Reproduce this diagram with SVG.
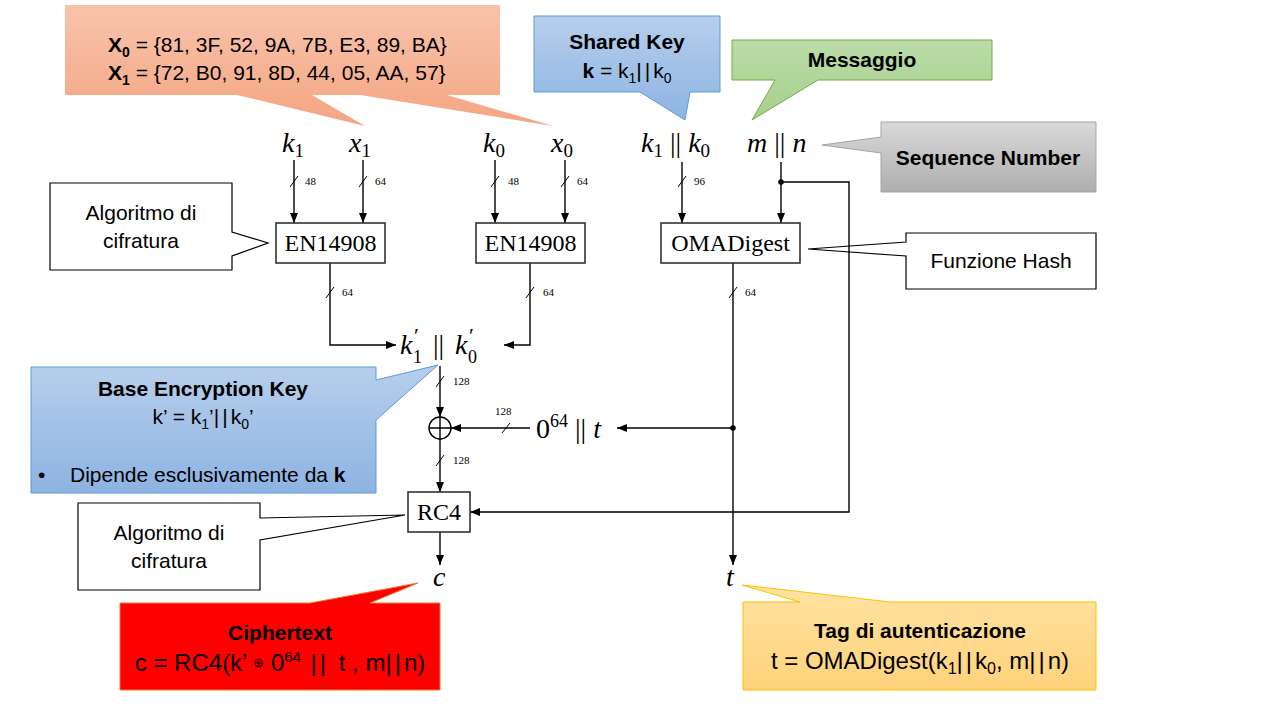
<svg xmlns="http://www.w3.org/2000/svg" width="1280" height="720" viewBox="0 0 1280 720">
<defs>
<linearGradient id="gOrange" x1="0" y1="0" x2="0" y2="1"><stop offset="0" stop-color="#F8C4AC"/><stop offset="1" stop-color="#F4A582"/></linearGradient>
<linearGradient id="gBlue" x1="0" y1="0" x2="0" y2="1"><stop offset="0" stop-color="#B7CFEC"/><stop offset="1" stop-color="#8DB3E2"/></linearGradient>
<linearGradient id="gGreen" x1="0" y1="0" x2="0" y2="1"><stop offset="0" stop-color="#BBDCA8"/><stop offset="1" stop-color="#A6CF8B"/></linearGradient>
<linearGradient id="gGray" x1="0" y1="0" x2="0" y2="1"><stop offset="0" stop-color="#D9D9D9"/><stop offset="1" stop-color="#AEAEAE"/></linearGradient>
<linearGradient id="gYellow" x1="0" y1="0" x2="0" y2="1"><stop offset="0" stop-color="#FFE3A3"/><stop offset="1" stop-color="#FFD27A"/></linearGradient>
<marker id="ah" viewBox="0 0 10 8" refX="10" refY="4" markerWidth="10" markerHeight="8" markerUnits="userSpaceOnUse" orient="auto"><path d="M0 0 L10 4 L0 8 Z" fill="#000"/></marker>
</defs>
<style>
.ln{fill:none;stroke:#000;stroke-width:1.4}
.arr{fill:none;stroke:#000;stroke-width:1.4;marker-end:url(#ah)}
.sl{stroke:#000;stroke-width:1}
.box{fill:#fff;stroke:#333;stroke-width:1.6}
.math{font-family:"Liberation Serif","DejaVu Serif",serif;font-style:italic;font-size:28px;fill:#000}
.up{font-style:normal}
.sm{font-size:18px}
.pr{font-size:22px}
.bw{font-family:"Liberation Serif","DejaVu Serif",serif;font-size:11px;fill:#000}
.bl{font-family:"Liberation Serif","DejaVu Serif",serif;font-size:24px;fill:#000;text-anchor:middle}
.t{font-family:"Liberation Sans","Noto Sans",sans-serif;font-size:21px;fill:#000}
.f24{font-size:24px}
.c{text-anchor:middle}
.b{font-weight:bold}
.wc{fill:#fff;stroke:#000;stroke-width:1.2}
.bar{letter-spacing:3px}
</style>

<!-- callouts -->
<g id="callout-x">
<path d="M65 5 H500 V95 H447 L553 126 L360 95 H312 L365 126 L237 95 H65 Z" fill="url(#gOrange)"/>
<text class="t" x="108" y="52"><tspan class="b">X</tspan><tspan class="b" font-size="14" dy="5">0</tspan><tspan dy="-5"> = {81, 3F, 52, 9A, 7B, E3, 89, BA}</tspan></text>
<text class="t" x="108" y="80"><tspan class="b">X</tspan><tspan class="b" font-size="14" dy="5">1</tspan><tspan dy="-5"> = {72, B0, 91, 8D, 44, 05, AA, 57}</tspan></text>
</g>
<g id="callout-shared">
<path d="M534 16 H720 V92 H690 L685 120 L640 92 H534 Z" fill="url(#gBlue)" stroke="#5B9BD5" stroke-width="1"/>
<text class="t c b" x="627" y="49">Shared Key</text>
<text class="t c" x="627" y="78"><tspan class="b">k</tspan> = k<tspan font-size="14" dy="5">1</tspan><tspan dy="-5" class="bar">||</tspan><tspan>k</tspan><tspan font-size="14" dy="5">0</tspan></text>
</g>
<g id="callout-msg">
<path d="M732 40 H992 V80 H818 L752 120 L775 80 H732 Z" fill="url(#gGreen)" stroke="#70AD47" stroke-width="1"/>
<text class="t c b" x="862" y="67">Messaggio</text>
</g>
<g id="callout-seq">
<path d="M881 122 H1096 V192 H881 V153 L822 145 L881 137 Z" fill="url(#gGray)" stroke="#A5A5A5" stroke-width="1"/>
<text class="t c b" x="988" y="165">Sequence Number</text>
</g>
<g id="callout-alg1">
<path d="M50 183 H232 V232 L268 243 L232 256 V270 H50 Z" class="wc"/>
<text class="t c" x="141" y="220">Algoritmo di</text>
<text class="t c" x="141" y="248">cifratura</text>
</g>
<g id="callout-hash">
<path d="M906 233 H1096 V289 H906 V256 L808 249 L906 242 Z" class="wc"/>
<text class="t c" x="1001" y="268">Funzione Hash</text>
</g>
<g id="callout-base">
<path d="M31 367 H376 V380 L438 365 L376 420 V493 H31 Z" fill="url(#gBlue)" stroke="#5B9BD5" stroke-width="1"/>
<text class="t c b" x="203" y="396">Base Encryption Key</text>
<text class="t c" x="203" y="424">k’ = k<tspan font-size="14" dy="5">1</tspan><tspan dy="-5">’</tspan><tspan class="bar">||</tspan><tspan>k</tspan><tspan font-size="14" dy="5">0</tspan><tspan dy="-5">’</tspan></text>
<text class="t" x="38" y="482">•</text>
<text class="t" x="70" y="482">Dipende esclusivamente da <tspan class="b">k</tspan></text>
</g>
<g id="callout-alg2">
<path d="M78 503 H260 V518 L405 515 L260 540 V590 H78 Z" class="wc"/>
<text class="t c" x="169" y="540">Algoritmo di</text>
<text class="t c" x="169" y="568">cifratura</text>
</g>
<g id="callout-cipher">
<path d="M120 603 H310 L418 583 L370 603 H440 V690 H120 Z" fill="#FF0000" stroke="#ED7D31" stroke-width="1"/>
<text class="t c b" x="280" y="640">Ciphertext</text>
<text class="t c f24" x="280" y="671">c = RC4(k’ <tspan font-size="13" dy="-4">⊕</tspan><tspan dy="4"> 0</tspan><tspan font-size="15" dy="-9">64</tspan><tspan dy="9" class="bar"> || </tspan><tspan>t , m</tspan><tspan class="bar">||</tspan><tspan>n)</tspan></text>
</g>
<g id="callout-tag">
<path d="M743 602 H800 L742 585 L890 602 H1096 V690 H743 Z" fill="url(#gYellow)" stroke="#FFC000" stroke-width="1"/>
<text class="t c b" x="920" y="638">Tag di autenticazione</text>
<text class="t c f24" x="920" y="669">t = OMADigest(k<tspan font-size="16" dy="5">1</tspan><tspan dy="-5" class="bar">||</tspan><tspan>k</tspan><tspan font-size="16" dy="5">0</tspan><tspan dy="-5">, m</tspan><tspan class="bar">||</tspan><tspan>n)</tspan></text>
</g>

<!-- connectors -->
<g id="connectors">
<path class="arr" d="M294 160 V223"/>
<path class="arr" d="M363 160 V223"/>
<path class="arr" d="M495 160 V223"/>
<path class="arr" d="M565 160 V223"/>
<path class="arr" d="M682 162 V223"/>
<path class="arr" d="M781 162 V223"/>
<path class="arr" d="M781 182 H849 V512 H470"/>
<circle cx="781" cy="182" r="2.8" fill="#000"/>
<path class="arr" d="M330 263 V345 H396"/>
<path class="arr" d="M530 263 V345 H504"/>
<path class="arr" d="M733 263 V565"/>
<circle cx="733" cy="428" r="2.8" fill="#000"/>
<path class="arr" d="M733 428 H617"/>
<path class="arr" d="M440 366 V417"/>
<path class="arr" d="M530 428 H451"/>
<path class="arr" d="M440 439 V492"/>
<path class="arr" d="M440 532 V565"/>
<line class="sl" x1="290" y1="187" x2="298" y2="176"/><text class="bw" x="305" y="185">48</text>
<line class="sl" x1="359" y1="187" x2="367" y2="176"/><text class="bw" x="375" y="185">64</text>
<line class="sl" x1="491" y1="187" x2="499" y2="176"/><text class="bw" x="508" y="185">48</text>
<line class="sl" x1="561" y1="187" x2="569" y2="176"/><text class="bw" x="577" y="185">64</text>
<line class="sl" x1="678" y1="187" x2="686" y2="176"/><text class="bw" x="694" y="185">96</text>
<line class="sl" x1="326" y1="298" x2="334" y2="287"/><text class="bw" x="342" y="296">64</text>
<line class="sl" x1="526" y1="298" x2="534" y2="287"/><text class="bw" x="543" y="296">64</text>
<line class="sl" x1="729" y1="298" x2="737" y2="287"/><text class="bw" x="745" y="296">64</text>
<line class="sl" x1="436" y1="387" x2="444" y2="376"/><text class="bw" x="453" y="385">128</text>
<line class="sl" x1="502" y1="433" x2="510" y2="423"/><text class="bw" x="495" y="415">128</text>
<line class="sl" x1="436" y1="466" x2="444" y2="455"/><text class="bw" x="453" y="464">128</text>
</g>

<!-- nodes -->
<g id="in-k1"><text class="math" x="282" y="152">k<tspan class="up" font-size="19" dy="5">1</tspan></text></g>
<g id="in-x1"><text class="math" x="349" y="152">x<tspan class="up" font-size="19" dy="5">1</tspan></text></g>
<g id="in-k0"><text class="math" x="483" y="152">k<tspan class="up" font-size="19" dy="5">0</tspan></text></g>
<g id="in-x0"><text class="math" x="551" y="152">x<tspan class="up" font-size="19" dy="5">0</tspan></text></g>
<g id="in-k1k0"><text class="math" x="641" y="152">k<tspan class="up" font-size="19" dy="5">1</tspan><tspan class="up" dy="-5"> || </tspan>k<tspan class="up" font-size="19" dy="5">0</tspan></text></g>
<g id="in-mn"><text class="math" x="747" y="152">m<tspan class="up"> || </tspan>n</text></g>
<g id="en1"><rect class="box" x="276" y="223" width="109" height="40"/><text class="bl" x="330.5" y="251">EN14908</text></g>
<g id="en2"><rect class="box" x="476" y="223" width="109" height="40"/><text class="bl" x="530.5" y="251">EN14908</text></g>
<g id="oma"><rect class="box" x="661" y="223" width="139" height="40"/><text class="bl" x="730.5" y="251">OMADigest</text></g>
<g id="kprime">
<text class="math" x="400" y="354">k</text><text class="math up pr" x="414" y="343">′</text><text class="math up sm" x="413" y="363">1</text>
<text class="math up" x="433" y="354">||</text>
<text class="math" x="455" y="354">k</text><text class="math up pr" x="469" y="343">′</text><text class="math up sm" x="468" y="363">0</text>
</g>
<g id="xor"><circle cx="440" cy="428" r="11" fill="#fff" stroke="#000" stroke-width="1.4"/><path class="ln" d="M429 428 H451 M440 417 V439"/></g>
<g id="pad"><text class="math" x="536" y="438"><tspan class="up">0</tspan><tspan class="up" font-size="18" dy="-11">64</tspan><tspan class="up" dy="11"> || </tspan>t</text></g>
<g id="rc4"><rect class="box" x="408" y="492" width="62" height="40"/><text class="bl" x="439" y="520">RC4</text></g>
<g id="out-c"><text class="math" x="433" y="586">c</text></g>
<g id="out-t"><text class="math" x="726" y="586">t</text></g>
</svg>
